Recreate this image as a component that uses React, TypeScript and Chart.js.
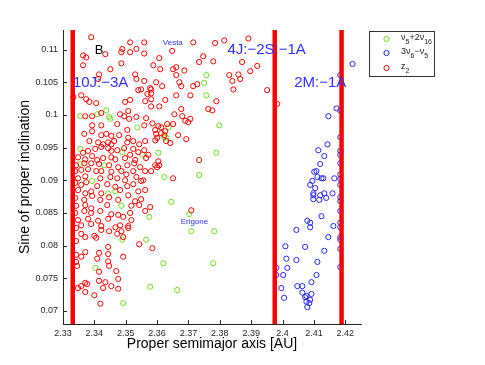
import React, { useEffect, useRef } from 'react';
import { Chart, registerables } from 'chart.js';

Chart.register(...registerables);

// ---- axis ticks ----
const xTicks = [2.33, 2.34, 2.35, 2.36, 2.37, 2.38, 2.39, 2.4, 2.41, 2.42];
const yTicks = [0.07, 0.075, 0.08, 0.085, 0.09, 0.095, 0.1, 0.105, 0.11];
const xRange = [2.33, 2.425];
const yRange = [0.068, 0.113];

// ---- resonance locations (proper semimajor axis, AU) ----
const resonanceA = [2.3331, 2.3975, 2.4188];

// ---- text annotations: [text, a, sin i] ----
const resonanceLabels: [string, number, number][] = [
  ['10J:\u22123A', 2.3420, 0.1049],
  ['4J:\u22122S:\u22121A', 2.3949, 0.1099],
  ['2M:\u22121A', 2.4120, 0.1049],
];
const bodyLabels: [string, number, number][] = [
  ['Vesta', 2.3650, 0.1111],
  ['Erigone', 2.3719, 0.0836],
];
const panelLabel: [string, number, number] = ['B', 2.3415, 0.1098];

// ---- z2 (red) ----
const z2Points: [number, number][] = [
  [2.3390,0.1119],[2.3514,0.1111],[2.3559,0.1111],[2.3364,0.1091],[2.3374,0.1088],[2.3489,0.1101],
  [2.3486,0.1096],[2.3514,0.1096],[2.3534,0.1101],[2.3559,0.1094],[2.3486,0.1079],[2.3364,0.1076],
  [2.3451,0.1070],[2.3415,0.1062],[2.3530,0.1062],[2.3534,0.1055],[2.3559,0.1052],[2.3412,0.1055],
  [2.3540,0.1038],[2.3549,0.1039],[2.3358,0.1030],[2.3333,0.1027],[2.3374,0.1024],[2.3384,0.1020],
  [2.3406,0.1018],[2.3514,0.1023],[2.3562,0.1021],[2.3498,0.1020],[2.3371,0.0998],[2.3393,0.0998],
  [2.3422,0.1003],[2.3482,0.1001],[2.3495,0.0998],[2.3511,0.0994],[2.3534,0.0997],[2.3565,0.0995],
  [2.3508,0.1006],[2.3393,0.0984],[2.3422,0.0984],[2.3473,0.0986],[2.3559,0.0984],[2.3715,0.1111],
  [2.3785,0.1110],[2.3814,0.1114],[2.3648,0.1098],[2.3607,0.1087],[2.3588,0.1076],[2.3610,0.1070],
  [2.3651,0.1070],[2.3661,0.1073],[2.3687,0.1068],[2.3661,0.1061],[2.3747,0.1090],[2.3734,0.1081],
  [2.3779,0.1082],[2.3671,0.1050],[2.3677,0.1044],[2.3616,0.1044],[2.3715,0.1044],[2.3728,0.1047],
  [2.3578,0.1041],[2.3581,0.1039],[2.3581,0.1033],[2.3661,0.1030],[2.3706,0.1030],[2.3581,0.1024],
  [2.3626,0.1023],[2.3789,0.1021],[2.3581,0.1013],[2.3607,0.1013],[2.3677,0.1009],[2.3763,0.1009],
  [2.3776,0.1007],[2.3655,0.1001],[2.3680,0.0998],[2.3706,0.0994],[2.3690,0.0991],[2.3699,0.0989],
  [2.3585,0.0987],[2.3632,0.0986],[2.3651,0.0986],[2.3604,0.0983],[2.3613,0.0981],[2.3435,0.1093],
  [2.3891,0.1117],[2.3871,0.1081],[2.3830,0.1061],[2.3859,0.1062],[2.3840,0.1052],[2.3865,0.1055],
  [2.3897,0.1067],[2.3919,0.1075],[2.3843,0.1039],[2.3951,0.1038],[2.3983,0.1017],[2.3569,0.1032],
  [2.3597,0.1050],
  [2.3368,0.0971],[2.3393,0.0975],[2.3422,0.0969],[2.3438,0.0971],[2.3454,0.0968],[2.3479,0.0969],
  [2.3505,0.0977],[2.3508,0.0965],[2.3384,0.0960],[2.3412,0.0958],[2.3428,0.0955],[2.3444,0.0958],
  [2.3454,0.0955],[2.3463,0.0960],[2.3505,0.0958],[2.3524,0.0960],[2.3543,0.0955],[2.3562,0.0960],
  [2.3364,0.0942],[2.3380,0.0945],[2.3403,0.0948],[2.3422,0.0951],[2.3444,0.0949],[2.3454,0.0945],
  [2.3473,0.0946],[2.3495,0.0949],[2.3524,0.0948],[2.3540,0.0943],[2.3559,0.0946],[2.3348,0.0935],
  [2.3371,0.0932],[2.3393,0.0937],[2.3409,0.0931],[2.3428,0.0934],[2.3454,0.0935],[2.3467,0.0932],
  [2.3498,0.0934],[2.3514,0.0939],[2.3530,0.0931],[2.3565,0.0934],[2.3342,0.0923],[2.3368,0.0926],
  [2.3390,0.0926],[2.3415,0.0925],[2.3447,0.0923],[2.3476,0.0920],[2.3505,0.0923],[2.3527,0.0926],
  [2.3546,0.0920],[2.3339,0.0914],[2.3358,0.0916],[2.3380,0.0917],[2.3406,0.0914],[2.3422,0.0914],
  [2.3454,0.0913],[2.3486,0.0914],[2.3502,0.0909],[2.3524,0.0914],[2.3562,0.0914],[2.3348,0.0903],
  [2.3371,0.0906],[2.3419,0.0903],[2.3451,0.0905],[2.3473,0.0903],[2.3498,0.0900],[2.3534,0.0905],
  [2.3556,0.0900],[2.3339,0.0896],[2.3358,0.0893],[2.3374,0.0897],[2.3409,0.0891],[2.3441,0.0894],
  [2.3467,0.0890],[2.3505,0.0891],[2.3524,0.0894],[2.3549,0.0899],[2.3348,0.0885],[2.3371,0.0880],
  [2.3390,0.0883],[2.3422,0.0880],[2.3482,0.0885],[2.3508,0.0877],[2.3540,0.0883],[2.3562,0.0885],
  [2.3339,0.0873],[2.3368,0.0870],[2.3393,0.0876],[2.3419,0.0870],[2.3447,0.0874],[2.3476,0.0870],
  [2.3530,0.0868],[2.3549,0.0871],[2.3342,0.0861],[2.3371,0.0862],[2.3390,0.0857],[2.3441,0.0862],
  [2.3518,0.0861],[2.3543,0.0862],[2.3339,0.0850],[2.3368,0.0853],[2.3390,0.0850],[2.3419,0.0853],
  [2.3454,0.0848],[2.3476,0.0847],[2.3514,0.0850],[2.3562,0.0853],[2.3348,0.0839],[2.3380,0.0841],
  [2.3412,0.0838],[2.3444,0.0841],[2.3492,0.0844],[2.3518,0.0839],[2.3358,0.0831],[2.3390,0.0833],
  [2.3422,0.0830],[2.3482,0.0831],[2.3508,0.0830],
  [2.3594,0.0977],[2.3597,0.0971],[2.3600,0.0965],[2.3594,0.0961],[2.3613,0.0972],[2.3626,0.0975],
  [2.3623,0.0969],[2.3629,0.0960],[2.3642,0.0957],[2.3667,0.0969],[2.3693,0.0963],[2.3734,0.0931],
  [2.3572,0.0939],[2.3604,0.0929],[2.3607,0.0923],[2.3600,0.0920],[2.3594,0.0923],[2.3581,0.0914],
  [2.3651,0.0903],[2.3578,0.0859],[2.3709,0.0854],
  [2.3342,0.0807],[2.3543,0.0802],[2.3585,0.0796],[2.3444,0.0798],[2.3415,0.0789],[2.3371,0.0790],
  [2.3358,0.0783],[2.3342,0.0786],[2.3444,0.0787],[2.3409,0.0780],[2.3492,0.0783],[2.3444,0.0776],
  [2.3342,0.0775],[2.3345,0.0769],[2.3447,0.0769],[2.3470,0.0761],[2.3415,0.0760],[2.3476,0.0749],
  [2.3415,0.0746],[2.3435,0.0744],[2.3371,0.0743],[2.3377,0.0741],[2.3454,0.0738],[2.3358,0.0738],
  [2.3348,0.0735],[2.3428,0.0735],[2.3476,0.0734],[2.3371,0.0729],[2.3400,0.0724],[2.3419,0.0711],
  [2.3422,0.0824],[2.3447,0.0822],[2.3467,0.0828],[2.3473,0.0818],[2.3486,0.0822],[2.3492,0.0813],
  [2.3508,0.0827],[2.3358,0.0818],[2.3371,0.0813],[2.3400,0.0815],[2.3406,0.0812],[2.3342,0.0827],
];

// ---- 3nu6 - nu5 (blue) ----
const nu6Points: [number, number][] = [
  [2.4223,0.1078],[2.4184,0.1061],[2.4172,0.1010],[2.4146,0.0998],[2.4184,0.1007],[2.4184,0.0966],
  [2.4143,0.0955],[2.4114,0.0946],[2.4133,0.0937],[2.4184,0.0945],[2.4184,0.0939],[2.4120,0.0925],
  [2.4184,0.0926],[2.4101,0.0913],[2.4108,0.0914],[2.4184,0.0909],[2.4111,0.0905],[2.4124,0.0903],
  [2.4130,0.0903],[2.4165,0.0903],[2.4184,0.0902],[2.4095,0.0899],[2.4184,0.0893],[2.4088,0.0893],
  [2.4104,0.0888],[2.4098,0.0880],[2.4098,0.0877],[2.4120,0.0877],[2.4133,0.0880],[2.4159,0.0880],
  [2.4139,0.0873],[2.4098,0.0871],[2.4117,0.0870],[2.4184,0.0874],[2.4184,0.0868],[2.4184,0.0853],
  [2.4124,0.0845],[2.4079,0.0838],[2.4088,0.0835],[2.4088,0.0828],[2.4162,0.0830],[2.4184,0.0835],
  [2.4184,0.0828],[2.4044,0.0824],[2.4146,0.0813],[2.4184,0.0813],[2.4184,0.0809],[2.4009,0.0799],
  [2.4072,0.0798],[2.4133,0.0792],[2.4184,0.0795],[2.4012,0.0780],[2.4044,0.0778],[2.4111,0.0775],
  [2.4015,0.0766],[2.3980,0.0766],[2.4184,0.0767],[2.3980,0.0755],[2.4002,0.0755],[2.4108,0.0755],
  [2.4092,0.0744],[2.3996,0.0735],[2.4047,0.0738],[2.4063,0.0738],[2.4063,0.0728],[2.4072,0.0721],
  [2.4076,0.0723],[2.4092,0.0726],[2.4005,0.0720],[2.4088,0.0717],[2.4076,0.0714],[2.4085,0.0712],
  [2.4079,0.0706],
];

// ---- nu5 + 2nu16 (green) ----
const nu16Points: [number, number][] = [
  [2.3757,0.1061],[2.3750,0.1049],[2.3757,0.1030],[2.3355,0.0998],[2.3451,0.0994],[2.3447,0.0997],
  [2.3438,0.1007],[2.3409,0.1001],[2.3537,0.0981],[2.3636,0.0981],[2.3623,0.0966],[2.3629,0.0965],
  [2.3604,0.0942],[2.3553,0.0939],[2.3789,0.0942],[2.3355,0.0948],[2.3489,0.0943],[2.3355,0.0925],
  [2.3431,0.0923],[2.3393,0.0899],[2.3444,0.0880],[2.3467,0.0883],[2.3486,0.0861],[2.3489,0.0809],
  [2.3403,0.0766],[2.3565,0.0809],[2.3623,0.0905],[2.3645,0.0867],[2.3702,0.0848],[2.3575,0.0844],
  [2.3709,0.0822],[2.3782,0.0822],[2.3734,0.0908],[2.3620,0.0773],[2.3779,0.0773],[2.3578,0.0737],
  [2.3664,0.0732],[2.3492,0.0712],[2.3798,0.0984],
];

const RED = '#ff0000';
const BLUE = '#2626ff';
const GREEN = 'rgb(110,222,30)';
const TEXT_BLUE = '#3030ff';
const AXIS = '#262626';
const FONT = "'Liberation Sans', Arial, Helvetica, sans-serif";

type Seg = [string, boolean];
const legendItems: { color: string; segs: Seg[] }[] = [
  { color: GREEN, segs: [['\u03bd', false], ['5', true], ['+2\u03bd', false], ['16', true]] },
  { color: BLUE, segs: [['3\u03bd', false], ['6', true], ['\u2212\u03bd', false], ['5', true]] },
  { color: RED, segs: [['z', false], ['2', true]] },
];

const overlayPlugin = {
  id: 'overlay',
  afterDraw(chart: any) {
    const { ctx, chartArea } = chart;
    const xs = chart.scales.x;
    const ys = chart.scales.y;
    ctx.save();
    // inward tick marks
    ctx.strokeStyle = AXIS;
    ctx.lineWidth = 1;
    xTicks.forEach((v) => {
      const px = Math.round(xs.getPixelForValue(v)) + 0.5;
      ctx.beginPath();
      ctx.moveTo(px, chartArea.bottom);
      ctx.lineTo(px, chartArea.bottom - 4);
      ctx.stroke();
    });
    yTicks.forEach((v) => {
      const py = Math.round(ys.getPixelForValue(v)) + 0.5;
      ctx.beginPath();
      ctx.moveTo(chartArea.left, py);
      ctx.lineTo(chartArea.left + 4, py);
      ctx.stroke();
    });

    // annotations
    ctx.textAlign = 'center';
    ctx.textBaseline = 'middle';
    ctx.fillStyle = TEXT_BLUE;
    ctx.font = `15px ${FONT}`;
    resonanceLabels.forEach(([t, a, s]) => {
      ctx.fillText(t, xs.getPixelForValue(a), ys.getPixelForValue(s));
    });
    ctx.font = `8px ${FONT}`;
    bodyLabels.forEach(([t, a, s]) => {
      ctx.fillText(t, xs.getPixelForValue(a), ys.getPixelForValue(s));
    });
    ctx.fillStyle = '#000';
    ctx.font = `13px ${FONT}`;
    ctx.fillText(panelLabel[0], xs.getPixelForValue(panelLabel[1]), ys.getPixelForValue(panelLabel[2]));

    // legend box
    const bx = 369.5, by = 31.5, bw = 65, bh = 45;
    ctx.fillStyle = '#fff';
    ctx.fillRect(bx, by, bw, bh);
    ctx.strokeStyle = '#333';
    ctx.lineWidth = 1;
    ctx.strokeRect(bx, by, bw, bh);
    const rowsY = [39, 53, 68];
    legendItems.forEach((item, i) => {
      const cy = rowsY[i];
      ctx.beginPath();
      ctx.arc(386.5, cy, 2.6, 0, Math.PI * 2);
      ctx.strokeStyle = item.color;
      ctx.stroke();
      let tx = 401;
      ctx.fillStyle = '#222';
      ctx.textAlign = 'left';
      ctx.textBaseline = 'alphabetic';
      item.segs.forEach(([s, sub]) => {
        ctx.font = sub ? `7px ${FONT}` : `9px ${FONT}`;
        ctx.fillText(s, tx, sub ? cy + 5 : cy + 1);
        tx += ctx.measureText(s).width;
      });
    });
    ctx.restore();
  },
};

export default function App() {
  const ref = useRef<HTMLCanvasElement | null>(null);
  useEffect(() => {
    document.body.style.margin = '0';
    const canvas = ref.current;
    if (!canvas) return;
    const pointDs = (label: string, pts: [number, number][], color: string) => ({
      type: 'scatter' as const,
      label,
      data: pts.map(([a, s]) => ({ x: a, y: s })),
      borderColor: color,
      backgroundColor: 'rgba(0,0,0,0)',
      pointRadius: 2.6,
      pointBorderWidth: 1,
      showLine: false,
    });
    const lineDs = resonanceA.map((a) => ({
      type: 'line' as const,
      label: 'res',
      data: [{ x: a, y: yRange[0] }, { x: a, y: yRange[1] }],
      borderColor: RED,
      borderWidth: 4.5,
      pointRadius: 0,
      fill: false,
    }));
    const chart = new Chart(canvas, {
      type: 'scatter',
      data: {
        datasets: [
          ...lineDs,
          pointDs('z2', z2Points, RED),
          pointDs('3v6-v5', nu6Points, BLUE),
          pointDs('v5+2v16', nu16Points, GREEN),
        ] as any,
      },
      options: {
        animation: false,
        responsive: false,
        layout: { padding: { top: 30, right: 124, left: 0, bottom: 0 } },
        plugins: { legend: { display: false }, tooltip: { enabled: false } },
        scales: {
          x: {
            type: 'linear',
            min: xRange[0],
            max: xRange[1],
            grid: { display: false, drawTicks: false },
            border: { display: true, color: AXIS, width: 1 },
            afterBuildTicks: (s: any) => { s.ticks = xTicks.map((v) => ({ value: v })); },
            afterFit: (s: any) => { s.height = 41; },
            ticks: {
              padding: 4,
              color: AXIS,
              font: { family: FONT, size: 9 },
              maxRotation: 0,
              autoSkip: false,
              callback: (v: any) => String(+Number(v).toFixed(2)),
            },
            title: {
              display: true,
              text: 'Proper semimajor axis [AU]',
              color: '#000',
              font: { family: FONT, size: 14 },
              padding: { top: 0, bottom: 12 },
            },
          },
          y: {
            type: 'linear',
            min: yRange[0],
            max: yRange[1],
            grid: { display: false, drawTicks: false },
            border: { display: true, color: AXIS, width: 1 },
            afterBuildTicks: (s: any) => { s.ticks = yTicks.map((v) => ({ value: v })); },
            afterFit: (s: any) => { s.width = 63; },
            ticks: {
              padding: 5,
              color: AXIS,
              font: { family: FONT, size: 9 },
              autoSkip: false,
              callback: (v: any) => String(+Number(v).toFixed(3)),
            },
            title: {
              display: true,
              text: 'Sine of proper inclination',
              color: '#000',
              font: { family: FONT, size: 14 },
              padding: { top: 16.6, bottom: 0 },
            },
          },
        },
      },
      plugins: [overlayPlugin],
    });
    return () => chart.destroy();
  }, []);
  return (
    <div style={{ width: 485, height: 365 }}>
      <canvas ref={ref} width={485} height={365} style={{ display: 'block' }} />
    </div>
  );
}
